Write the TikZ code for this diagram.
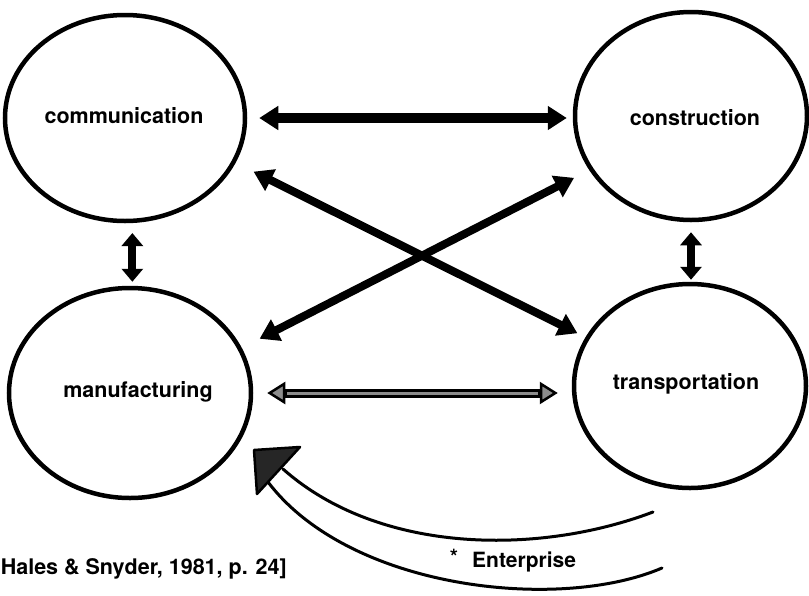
\documentclass[tikz,border=0pt]{standalone}
\usepackage{fontspec}
\setmainfont{TeX Gyre Heros}
\usetikzlibrary{shapes.geometric,arrows.meta,calc}
\begin{document}
\begin{tikzpicture}[x=1pt,y=-1pt,
  sector/.style={ellipse,draw,line width=4.5pt,inner sep=0pt},
  lbl/.style={font=\fontsize{21.5}{24}\selectfont\bfseries,inner sep=0pt},
  small/.style={font=\fontsize{21}{23}\selectfont\bfseries,inner sep=0pt},
  link/.style={line width=#1,
    {Triangle[length=19pt,width=23pt]}-{Triangle[length=19pt,width=23pt]}},
  shortlink/.style={line width=8pt,
    {Triangle[length=13pt,width=21pt]}-{Triangle[length=13pt,width=21pt]}},
  hollow/.style={line width=9pt,
    {Triangle[length=18pt,width=22pt,fill=black!45,line width=2.5pt]}-{Triangle[length=18pt,width=22pt,fill=black!45,line width=2.5pt]}},
  band/.style={line width=3pt,line cap=round}
]
\useasboundingbox (0,0) rectangle (809,595);

% the four sectors
\node[sector,minimum width=240pt,minimum height=206pt] (comm)  at (125,118) {};
\node[sector,minimum width=232pt,minimum height=208pt] (cons)  at (691,116) {};
\node[sector,minimum width=242pt,minimum height=210pt] (manuf) at (130,393) {};
\node[sector,minimum width=232pt,minimum height=204pt] (trans) at (690,386) {};

\node[lbl] (lcomm)  at (124,116) {communication};
\node[lbl] (lcons)  at (695,118) {construction};
\node[lbl] (lmanuf) at (138,392) {manufacturing};
\node[lbl] (ltrans) at (686,384) {transportation};

% links between the sectors
\draw[link=10pt,shorten <=12pt,shorten >=6pt] (comm.east) -- (comm.east -| cons.west);
\draw[link=8pt,shorten <=20pt,shorten >=9pt] (comm.-22) -- (trans.155);
\draw[link=8pt,shorten <=20pt,shorten >=17pt] (manuf.22) -- (cons.-152);
\draw[shortlink,shorten <=10pt,shorten >=4pt] (comm.-86) -- (comm.-86 |- manuf.north);
\draw[shortlink,shorten <=10pt,shorten >=2pt] (cons.-90) -- (cons.-90 |- trans.north);

\draw[hollow,shorten <=14pt,shorten >=14pt] (manuf.east) -- (manuf.east -| trans.west);
\draw[black!45,line width=3pt,shorten <=34pt,shorten >=34pt] (manuf.east) -- (manuf.east -| trans.west);

% the enterprise arrow
\coordinate (tipA) at (254,450);
\coordinate (tipB) at (300,447);
\coordinate (tipC) at (257,494);
\coordinate (bandU) at (283,469);
\coordinate (bandL) at (268,482);
\coordinate (endU) at (653,512);
\coordinate (endL) at (662,568);
\draw[band] (bandU) .. controls (380,555) and (540,555) .. (endU);
\draw[band] (bandL) .. controls (350,590) and (560,612) .. (endL);
\filldraw[fill=black!85,line width=2.5pt,line join=round] (tipA) -- (tipB) -- (tipC) -- cycle;

\node[small] (star) at (454,557) {*};
\node[small,anchor=west] (lent) at (472,562) {Enterprise};
\node[lbl,anchor=east] (cite) at (287,569) {Hales \& Snyder, 1981, p. 24]};
\end{tikzpicture}
\end{document}
